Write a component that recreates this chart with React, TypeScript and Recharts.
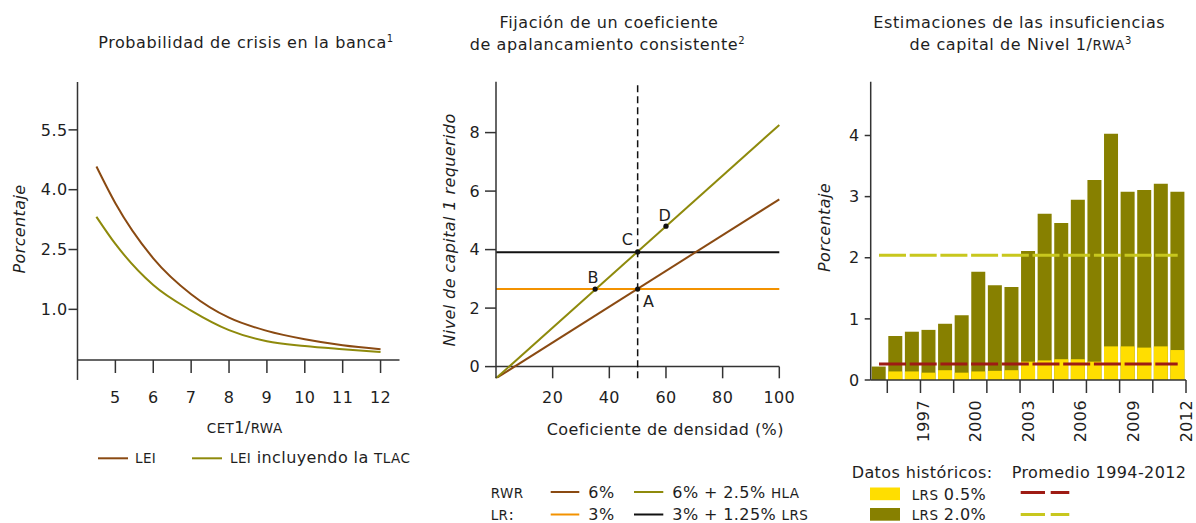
import React from "react"
import {
  LineChart,
  Line,
  BarChart,
  Bar,
  XAxis,
  YAxis,
  ReferenceLine,
  ReferenceDot,
} from "recharts"

// Panel 1: probabilidad de crisis
const cet1Ratio = [4.5, 5, 6, 7, 8, 9, 10, 11, 12]
const leiProb = [4.58, 3.66, 2.28, 1.38, 0.79, 0.46, 0.25, 0.1, 0.0]
const leiTlacProb = [3.32, 2.64, 1.61, 0.97, 0.48, 0.2, 0.08, 0.0, -0.07]
const cet1Ticks = [5, 6, 7, 8, 9, 10, 11, 12]
const probTicks = [1.0, 2.5, 4.0, 5.5]

// Panel 2: coeficiente de apalancamiento
const density = [0, 100]
const rwr6 = [-0.4, 5.72]
const rwrHla = [-0.4, 8.26]
const lr3 = [2.65, 2.65]
const lrLrs = [3.91, 3.91]
const densityTicks = [20, 40, 60, 80, 100]
const capitalTicks = [0, 2, 4, 6, 8]
const pointNames = ["A", "B", "C", "D"]
const pointDensity = [50, 35, 50, 60]
const pointCapital = [2.65, 2.65, 3.92, 4.8]
const densityCut = 50

// Panel 3: insuficiencias de capital
const years = [1994, 1995, 1996, 1997, 1998, 1999, 2000, 2001, 2002, 2003, 2004, 2005, 2006, 2007, 2008, 2009, 2010, 2011, 2012]
const lrs05 = [0, 0.14, 0.14, 0.12, 0.16, 0.12, 0.14, 0.15, 0.16, 0.3, 0.32, 0.34, 0.34, 0.3, 0.55, 0.55, 0.53, 0.55, 0.49]
const lrs20 = [0.22, 0.72, 0.79, 0.82, 0.92, 1.06, 1.77, 1.55, 1.52, 2.11, 2.72, 2.57, 2.95, 3.27, 4.03, 3.08, 3.11, 3.21, 3.08]
const avgLrs05 = 0.26
const avgLrs20 = 2.04
const yearLabels = [1997, 2000, 2003, 2006, 2009, 2012]
const shortfallTicks = [0, 1, 2, 3, 4]

const BROWN = "#8a4a12"
const OLIVE_LINE = "#8e8a0c"
const ORANGE = "#f39200"
const BLACK = "#111111"
const BAR_OLIVE = "#878000"
const BAR_YELLOW = "#ffde00"
const AVG_RED = "#9e1b14"
const AVG_YELLOW = "#c8c71e"
const AXIS = "#333333"
const TEXT = "#1e1e1e"

const probData = cet1Ratio.map((x, i) => ({ x, lei: leiProb[i], tlac: leiTlacProb[i] }))
const lineData = density.map((x, i) => ({ x, rwr6: rwr6[i], rwrHla: rwrHla[i], lr3: lr3[i], lrLrs: lrLrs[i] }))
const barData = years.map((year, i) => ({ year, lrs05: lrs05[i], lrs20: lrs20[i] }))

// label offsets around the A-D points
const pointOffsets = [
  [11, 12],
  [-2, -12],
  [-10, -12],
  [-1, -11],
]

const axisStyle = { stroke: AXIS, strokeWidth: 1.5 }
const tickStyle = { fill: TEXT, fontSize: 16 }

// right panel geometry
const BAR_W = 396
const BAR_LEFT = 70.7
const BAR_RIGHT = 10
const YEAR_BAND = (BAR_W - BAR_LEFT - BAR_RIGHT) / years.length

const Sc = ({ children }: { children: string }) => <tspan fontSize={13.5}>{children}</tspan>
const Sup = ({ children }: { children: string }) => (
  <tspan fontSize={10} dy={-6}>
    {children}
  </tspan>
)

// tick marks every other year boundary, year labels spread from first to last year
const YearTick = (props: any) => {
  const { x, y, payload, index } = props
  const year = payload.value as number
  const i = year - years[0]
  const left = x - YEAR_BAND / 2
  const right = x + YEAR_BAND / 2
  const marks: number[] = []
  if (i % 2 === 1) marks.push(left)
  if (index === years.length - 1) marks.push(right)
  const showLabel = yearLabels.includes(year)
  const lx = x + YEAR_BAND * (i / (years.length - 1) - 0.5)
  const ly = y + 20
  return (
    <g>
      {marks.map((m) => (
        <line key={m} x1={m} x2={m} y1={y} y2={y + 13} stroke={AXIS} strokeWidth={1.5} />
      ))}
      {showLabel && (
        <text
          x={lx}
          y={ly}
          transform={`rotate(-90, ${lx}, ${ly})`}
          textAnchor="end"
          dominantBaseline="central"
          fontSize={16}
          fill={TEXT}
        >
          {year}
        </text>
      )}
    </g>
  )
}

function Overlay() {
  return (
    <svg
      width={1196}
      height={523}
      style={{ position: "absolute", left: 0, top: 0, pointerEvents: "none" }}
      fill={TEXT}
      fontSize={16}
    >
      {/* titles */}
      <text x={246} y={48.3} textAnchor="middle" letterSpacing={0.6}>
        Probabilidad de crisis en la banca<Sup>1</Sup>
      </text>
      <text x={609} y={28.3} textAnchor="middle" letterSpacing={0.6}>
        Fijación de un coeficiente
      </text>
      <text x={607.5} y={50} textAnchor="middle" letterSpacing={0.6}>
        de apalancamiento consistente<Sup>2</Sup>
      </text>
      <text x={1019.3} y={28.3} textAnchor="middle" letterSpacing={0.6}>
        Estimaciones de las insuficiencias
      </text>
      <text x={1020.8} y={50} textAnchor="middle" letterSpacing={0.6}>
        de capital de Nivel 1/<Sc>RWA</Sc>
        <Sup>3</Sup>
      </text>

      {/* axis titles */}
      <text x={25} y={229} transform="rotate(-90, 25, 229)" textAnchor="middle" fontStyle="italic">
        Porcentaje
      </text>
      <text x={244.7} y={433.3} textAnchor="middle">
        <Sc>CET</Sc>1/<Sc>RWA</Sc>
      </text>
      <text x={455} y={230} transform="rotate(-90, 455, 230)" textAnchor="middle" fontStyle="italic">
        Nivel de capital 1 requerido
      </text>
      <text x={665.3} y={434.5} textAnchor="middle">
        Coeficiente de densidad (%)
      </text>
      <text x={830} y={227.5} transform="rotate(-90, 830, 227.5)" textAnchor="middle" fontStyle="italic">
        Porcentaje
      </text>

      {/* legend panel 1 */}
      <line x1={98} x2={128} y1={458.3} y2={458.3} stroke={BROWN} strokeWidth={2} />
      <text x={135} y={463}>
        <Sc>LEI</Sc>
      </text>
      <line x1={192} x2={222} y1={458.3} y2={458.3} stroke={OLIVE_LINE} strokeWidth={2} />
      <text x={230} y={463}>
        <Sc>LEI</Sc> incluyendo la <Sc>TLAC</Sc>
      </text>

      {/* legend panel 2 */}
      <text x={490.7} y={497.5}>
        <Sc>RWR</Sc>
      </text>
      <line x1={550.7} x2={579.3} y1={492} y2={492} stroke={BROWN} strokeWidth={2} />
      <text x={588.3} y={497.5}>6%</text>
      <line x1={634} x2={663.3} y1={492} y2={492} stroke={OLIVE_LINE} strokeWidth={2} />
      <text x={672.3} y={497.5}>
        6% + 2.5% <Sc>HLA</Sc>
      </text>
      <text x={490.7} y={520}>
        <Sc>LR</Sc>:
      </text>
      <line x1={550.7} x2={579.3} y1={514.5} y2={514.5} stroke={ORANGE} strokeWidth={2} />
      <text x={588.3} y={520}>3%</text>
      <line x1={634} x2={663.3} y1={514.5} y2={514.5} stroke={BLACK} strokeWidth={2} />
      <text x={672.3} y={520}>
        3% + 1.25% <Sc>LRS</Sc>
      </text>

      {/* legend panel 3 */}
      <text x={851.7} y={477.5}>Datos históricos:</text>
      <text x={1011.7} y={477.5}>Promedio 1994-2012</text>
      <rect x={870} y={487.5} width={30} height={12.7} fill={BAR_YELLOW} />
      <text x={911.7} y={499.5}>
        <Sc>LRS</Sc> 0.5%
      </text>
      <line x1={1020.7} x2={1069.3} y1={492.5} y2={492.5} stroke={AVG_RED} strokeWidth={3} strokeDasharray="24.3 5.7" />
      <rect x={870} y={508} width={30} height={12.7} fill={BAR_OLIVE} />
      <text x={911.7} y={520}>
        <Sc>LRS</Sc> 2.0%
      </text>
      <line x1={1020.7} x2={1069.3} y1={514.5} y2={514.5} stroke={AVG_YELLOW} strokeWidth={3} strokeDasharray="24.3 5.7" />
    </svg>
  )
}

function CrisisChart() {
  return (
    <LineChart width={420} height={420} data={probData} margin={{ top: 82, right: 20.5, left: 0, bottom: 0 }}>
      <XAxis
        dataKey="x"
        type="number"
        domain={[4, 12.5]}
        ticks={cet1Ticks}
        interval={0}
        allowDataOverflow
        height={60}
        tickSize={13}
        tickMargin={19}
        axisLine={axisStyle}
        tickLine={axisStyle}
        tick={tickStyle}
      />
      <YAxis
        type="number"
        domain={[-0.27, 6.7]}
        ticks={probTicks}
        interval={0}
        allowDataOverflow
        width={77.5}
        tickSize={9}
        tickMargin={1}
        tickFormatter={(v: number) => v.toFixed(1)}
        axisLine={axisStyle}
        tickLine={axisStyle}
        tick={tickStyle}
      />
      <ReferenceLine
        segment={[
          { x: 4, y: -0.27 },
          { x: 4, y: -0.77 },
        ]}
        ifOverflow="visible"
        stroke={AXIS}
        strokeWidth={1.5}
      />
      <Line type="monotone" dataKey="lei" stroke={BROWN} strokeWidth={2} dot={false} isAnimationActive={false} />
      <Line type="monotone" dataKey="tlac" stroke={OLIVE_LINE} strokeWidth={2} dot={false} isAnimationActive={false} />
    </LineChart>
  )
}

function LeverageChart() {
  return (
    <LineChart width={370} height={420} data={lineData} margin={{ top: 81.7, right: 20.7, left: 0, bottom: 0 }}>
      <XAxis
        dataKey="x"
        type="number"
        domain={[0, 100]}
        ticks={densityTicks}
        interval={0}
        height={41.7}
        tickSize={8}
        tickMargin={5.7}
        axisLine={false}
        tickLine={false}
        tick={tickStyle}
      />
      <YAxis
        type="number"
        domain={[-0.4, 9.74]}
        ticks={capitalTicks}
        interval={0}
        allowDataOverflow
        width={66}
        tickSize={11}
        tickMargin={5}
        axisLine={axisStyle}
        tickLine={axisStyle}
        tick={tickStyle}
      />
      <ReferenceLine y={0} stroke={AXIS} strokeWidth={1.5} />
      {densityTicks.map((t) => (
        <ReferenceLine
          key={t}
          segment={[
            { x: t, y: 0 },
            { x: t, y: -0.4 },
          ]}
          stroke={AXIS}
          strokeWidth={1.5}
        />
      ))}
      <ReferenceLine x={densityCut} stroke={BLACK} strokeWidth={1.5} strokeDasharray="7 4" />
      <Line type="linear" dataKey="lr3" stroke={ORANGE} strokeWidth={2} dot={false} isAnimationActive={false} />
      <Line type="linear" dataKey="lrLrs" stroke={BLACK} strokeWidth={2} dot={false} isAnimationActive={false} />
      <Line type="linear" dataKey="rwr6" stroke={BROWN} strokeWidth={2} dot={false} isAnimationActive={false} />
      <Line type="linear" dataKey="rwrHla" stroke={OLIVE_LINE} strokeWidth={2} dot={false} isAnimationActive={false} />
      {pointNames.map((name, i) => (
        <ReferenceDot
          key={name}
          x={pointDensity[i]}
          y={pointCapital[i]}
          r={2.6}
          shape={(p: any) => (
            <g>
              <circle cx={p.cx} cy={p.cy} r={2.6} fill={BLACK} />
              <text
                x={p.cx + pointOffsets[i][0]}
                y={p.cy + pointOffsets[i][1]}
                textAnchor="middle"
                dominantBaseline="central"
                fontSize={16}
                fill={TEXT}
              >
                {name}
              </text>
            </g>
          )}
        />
      ))}
    </LineChart>
  )
}

function ShortfallChart() {
  return (
    <BarChart
      width={BAR_W}
      height={450}
      data={barData}
      margin={{ top: 81.7, right: BAR_RIGHT, left: 0, bottom: 0 }}
    >
      <XAxis
        xAxisId="cat"
        dataKey="year"
        type="category"
        interval={0}
        height={70}
        tickSize={0}
        tickMargin={0}
        axisLine={axisStyle}
        tickLine={false}
        tick={(p: any) => <YearTick {...p} />}
      />
      <XAxis xAxisId="over" dataKey="year" type="category" hide />
      <YAxis
        type="number"
        domain={[0, 4.88]}
        ticks={shortfallTicks}
        interval={0}
        allowDataOverflow
        width={BAR_LEFT}
        tickSize={6}
        tickMargin={5}
        axisLine={axisStyle}
        tickLine={axisStyle}
        tick={tickStyle}
      />
      <Bar xAxisId="cat" dataKey="lrs20" fill={BAR_OLIVE} barSize={14} isAnimationActive={false} />
      <Bar xAxisId="over" dataKey="lrs05" fill={BAR_YELLOW} barSize={14} isAnimationActive={false} />
      <ReferenceLine
        xAxisId="cat"
        segment={[
          { x: years[0], y: avgLrs20 },
          { x: years[years.length - 1], y: avgLrs20 },
        ]}
        stroke={AVG_YELLOW}
        strokeWidth={3}
        strokeDasharray="27 3.7"
      />
      <ReferenceLine
        xAxisId="cat"
        segment={[
          { x: years[0], y: avgLrs05 },
          { x: years[years.length - 1], y: avgLrs05 },
        ]}
        stroke={AVG_RED}
        strokeWidth={3}
        strokeDasharray="27 3.7"
      />
    </BarChart>
  )
}

export default function App() {
  return (
    <div
      style={{
        position: "absolute",
        left: 0,
        top: 0,
        width: 1196,
        height: 523,
        overflow: "hidden",
        background: "#fff",
        fontFamily: "'DejaVu Sans', sans-serif",
        letterSpacing: "0.4px",
        color: TEXT,
      }}
    >
      <div style={{ position: "absolute", left: 0, top: 0 }}>
        <CrisisChart />
      </div>
      <div style={{ position: "absolute", left: 430, top: 0 }}>
        <LeverageChart />
      </div>
      <div style={{ position: "absolute", left: 800, top: 0 }}>
        <ShortfallChart />
      </div>
      <Overlay />
    </div>
  )
}
